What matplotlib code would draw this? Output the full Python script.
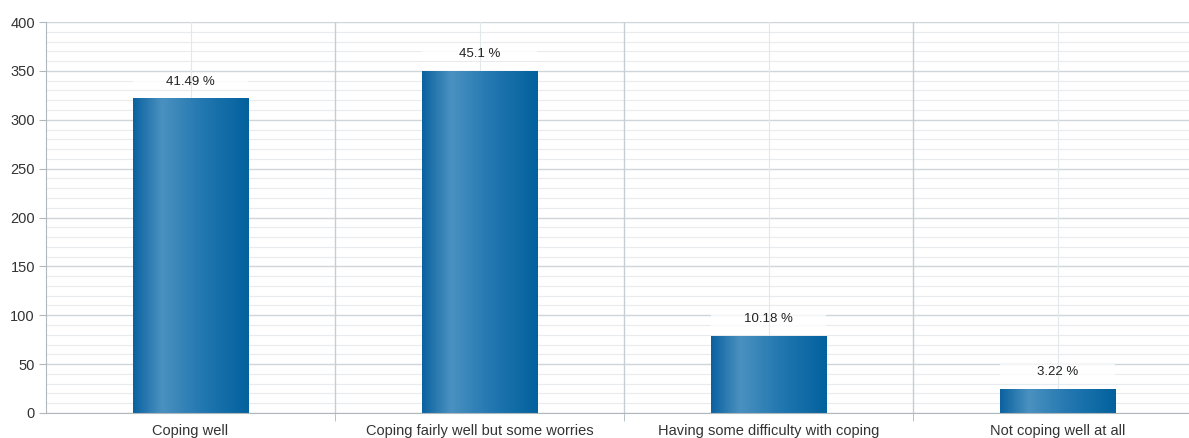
import numpy as np
import matplotlib.pyplot as plt
from matplotlib.colors import LinearSegmentedColormap
from matplotlib.patches import Rectangle

categories = ['Coping well', 'Coping fairly well but some worries',
              'Having some difficulty with coping', 'Not coping well at all']
counts = [322, 350, 79, 25]
percent_labels = ['41.49 %', '45.1 %', '10.18 %', '3.22 %']

plt.rcParams['font.family'] = ['Liberation Sans', 'DejaVu Sans']

fig = plt.figure(figsize=(11.89, 4.38), dpi=100)
ax = fig.add_axes([46 / 1189, 25 / 438, 1156 / 1189, 391 / 438])

x = np.arange(len(categories))
ax.set_xlim(-0.5, len(categories) - 0.5)
ax.set_ylim(0, 400)

# grid
for yv in range(0, 401, 10):
    if yv % 50 == 0:
        ax.axhline(yv, color='#cfd6da', lw=1.0, zorder=0)
    else:
        ax.axhline(yv, color='#e8ecee', lw=0.8, zorder=0)
for xv in x:
    ax.axvline(xv, color='#e3e8eb', lw=0.8, zorder=1)
for xv in x[:-1] + 0.5:
    ax.axvline(xv, color='#c6ced3', lw=1.0, zorder=1)

cmap = LinearSegmentedColormap.from_list('bar', [
    (0.0, '#0b62a0'), (0.25, '#4a91c0'), (0.6, '#2277b0'), (1.0, '#03619d')])
grad = np.linspace(0, 1, 256).reshape(1, -1)

bw = 0.4
bars = ax.bar(x, counts, width=bw, color='none', zorder=2)
for b in bars:
    x0, w, h = b.get_x(), b.get_width(), b.get_height()
    im = ax.imshow(grad, cmap=cmap, aspect='auto', extent=[x0, x0 + w, 0, h],
                   zorder=2, interpolation='bicubic')
    im.set_clip_path(b)

# value labels with a faint white strip behind them
for xi, c, lab in zip(x, counts, percent_labels):
    ax.add_patch(Rectangle((xi - bw / 2, c + 10), bw, 15, fc='white', ec='none',
                           alpha=0.75, zorder=0.5))
    ax.text(xi, c + 17, lab, ha='center', va='center', fontsize=9.5, color='#222222',
            zorder=4)

ax.set_yticks(range(0, 401, 50))
ax.set_xticks(x)
ax.set_xticklabels(categories, fontsize=10.5, color='#333333')
ax.tick_params(axis='x', length=0, pad=8)
ax.set_xticks(x[:-1] + 0.5, minor=True)
ax.tick_params(axis='x', which='minor', length=6, color='#b0b8bd', direction='out')
ax.tick_params(axis='y', length=5, color='#b0b8bd', labelsize=10.5, labelcolor='#333333', pad=3)

for s in ['top', 'right']:
    ax.spines[s].set_visible(False)
ax.spines['left'].set_color('#b0b8bd')
ax.spines['bottom'].set_color('#b0b8bd')

fig.savefig('out.png', dpi=100)
